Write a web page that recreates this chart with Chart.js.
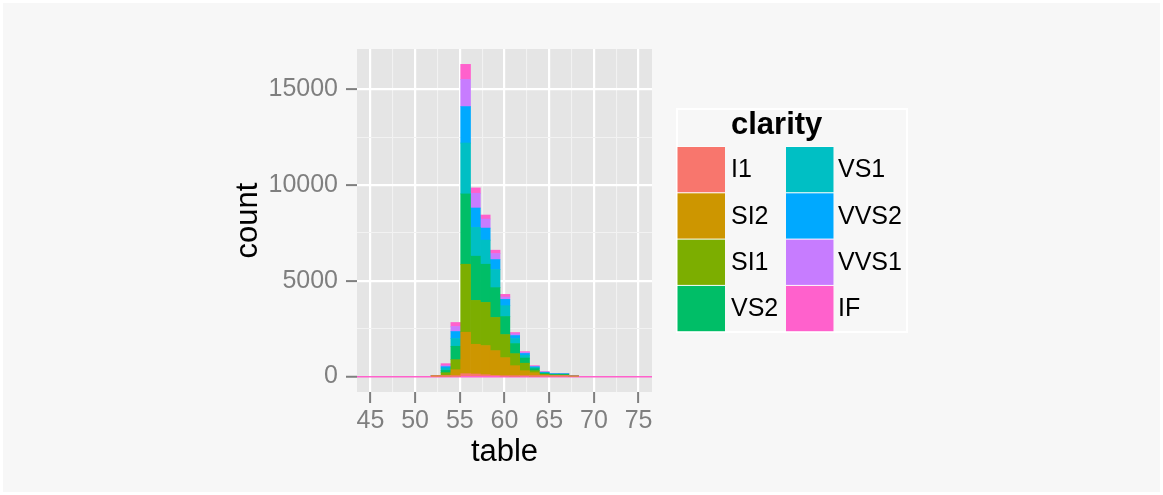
<!DOCTYPE html>
<html>
<head>
<meta charset="utf-8">
<script src="https://cdn.jsdelivr.net/npm/chart.js@4/dist/chart.umd.min.js"></script>
<style>
  html, body { margin: 0; padding: 0; background: #ffffff; }
  #c { display: block; }
</style>
</head>
<body>
<canvas id="c" width="1163" height="495"></canvas>
<script>
// bin centres of the histogram (table), binwidth 1.1
const binCenters = [43.55, 44.65, 45.75, 46.85, 47.95, 49.05, 50.15, 51.25, 52.35, 53.45,
                    54.55, 55.65, 56.75, 57.85, 58.95, 60.05, 61.15, 62.25, 63.35, 64.45,
                    65.55, 66.65, 67.75, 68.85, 69.95, 71.05, 72.15, 73.25, 74.35, 75.45];

const clarity = ['I1', 'SI2', 'SI1', 'VS2', 'VS1', 'VVS2', 'VVS1', 'IF'];
const clarityColors = ['#F8766D', '#CD9600', '#7CAE00', '#00BE67', '#00BFC4', '#00A9FF', '#C77CFF', '#FF61CC'];

// counts per bin
const countI1   = [0,0,0,0,0,0,0,0, 3, 10, 21, 142, 126, 89, 53, 30, 22, 30, 15, 25, 20, 20, 5, 0,0,0,0,0,0,0];
const countSI2  = [0,0,0,0,0,0,0,0, 25, 43, 331, 2168, 1554, 1523, 1296, 952, 540, 270, 180, 50, 30, 25, 5, 0,0,0,0,0,0,0];
const countSI1  = [0,0,0,0,0,0,0,0, 15, 141, 525, 3554, 2294, 2257, 1733, 1207, 630, 390, 105, 40, 20, 20, 5, 0,0,0,0,0,0,0];
const countVS2  = [0,0,0,0,0,0,0,0, 5, 121, 698, 3676, 2310, 1995, 1559, 945, 525, 270, 105, 50, 35, 45, 20, 0,0,0,0,0,0,0];
const countVS1  = [0,0,0,0,0,0,0,0, 3, 125, 404, 2660, 1506, 1260, 945, 562, 262, 140, 70, 30, 20, 15, 8, 0,0,0,0,0,0,0];
const countVVS2 = [0,0,0,0,0,0,0,0, 2, 69, 368, 1907, 1014, 630, 524, 331, 158, 100, 30, 25, 15, 12, 2, 0,0,0,0,0,0,0];
const countVVS1 = [0,0,0,0,0,0,0,0, 1, 53, 262, 1417, 770, 473, 315, 121, 89, 50, 27, 12, 5, 3, 0, 0,0,0,0,0,0,0];
const countIF   = [0,0,0,0,0,0,0,0, 1, 105, 210, 788, 280, 210, 174, 141, 68, 47, 30, 15, 5, 3, 2, 0,0,0,0,0,0,0];

const counts = [countI1, countSI2, countSI1, countVS2, countVS1, countVVS2, countVVS1, countIF];

const xMajorTicks = [45, 50, 55, 60, 65, 70, 75];
const xMinorTicks = [47.5, 52.5, 57.5, 62.5, 67.5, 72.5];
const yMajorTicks = [0, 5000, 10000, 15000];
const yMinorTicks = [2500, 7500, 12500];

Chart.defaults.font.family = '"Liberation Sans", Arial, sans-serif';

function tickValue(ctx) {
  return ctx && ctx.tick ? ctx.tick.value : null;
}
function gridColor(minor, zeroColor) {
  return ctx => {
    const v = tickValue(ctx);
    if (zeroColor && v === 0) return zeroColor;
    return minor.includes(v) ? '#F2F2F2' : '#FFFFFF';
  };
}
function gridWidth(minor, zero) {
  return ctx => {
    const v = tickValue(ctx);
    if (zero && v === 0) return 1.5;
    return minor.includes(v) ? 1.1 : 2.2;
  };
}
function tickCol(minor) {
  return ctx => minor.includes(tickValue(ctx)) ? 'rgba(0,0,0,0)' : '#7F7F7F';
}

const background = {
  id: 'background',
  beforeDraw(chart) {
    const ctx = chart.ctx, a = chart.chartArea;
    ctx.save();
    ctx.fillStyle = '#ffffff';
    ctx.fillRect(0, 0, chart.width, chart.height);
    ctx.fillStyle = '#F7F7F7';
    ctx.fillRect(3, 3, chart.width - 6, chart.height - 6);
    ctx.fillStyle = '#E5E5E5';
    ctx.fillRect(a.left, a.top, a.right - a.left, a.bottom - a.top);
    ctx.restore();
  }
};

// ggplot style legend box in two columns
const legendBox = {
  id: 'legendBox',
  afterDraw(chart) {
    const ctx = chart.ctx;
    ctx.save();
    ctx.strokeStyle = '#ffffff';
    ctx.lineWidth = 2;
    ctx.strokeRect(677, 109, 230, 223);
    ctx.fillStyle = '#000000';
    ctx.textBaseline = 'middle';
    ctx.textAlign = 'left';
    ctx.font = 'bold 31px "Liberation Sans", Arial, sans-serif';
    ctx.fillText('clarity', 731, 125);
    ctx.font = '25px "Liberation Sans", Arial, sans-serif';
    const colX = [677.5, 786];
    const textX = [731, 838];
    for (let i = 0; i < clarity.length; i++) {
      const col = Math.floor(i / 4), row = i % 4;
      const y = 146.5 + row * 46.3;
      ctx.fillStyle = '#ffffff';
      ctx.fillRect(colX[col], y, 47.5, 46.3);
      ctx.fillStyle = clarityColors[i];
      ctx.fillRect(colX[col], y + 0.5, 47.5, 45.3);
      ctx.fillStyle = '#000000';
      ctx.fillText(clarity[i], textX[col], y + 24);
    }
    ctx.restore();
  }
};

new Chart(document.getElementById('c'), {
  type: 'bar',
  data: {
    datasets: clarity.map((name, i) => ({
      label: name,
      // empty bins draw nothing, so the zero line shows through
      data: counts[i].map((v, k) => ({ x: binCenters[k], y: v === 0 ? null : v })),
      backgroundColor: clarityColors[i],
      borderWidth: 0,
      barPercentage: 1,
      categoryPercentage: 1
    }))
  },
  options: {
    responsive: false,
    animation: false,
    devicePixelRatio: 1,
    layout: { padding: { left: 230, top: 49, right: 511, bottom: 20 } },
    plugins: { legend: { display: false }, tooltip: { enabled: false } },
    scales: {
      x: {
        type: 'linear',
        min: 43.5,
        max: 76.5,
        stacked: true,
        offset: false,
        afterBuildTicks: s => { s.ticks = xMajorTicks.concat(xMinorTicks).sort((a, b) => a - b).map(v => ({ value: v })); },
        afterFit: s => { s.height = 83; },
        ticks: {
          autoSkip: false,
          maxRotation: 0,
          padding: 3,
          color: '#7F7F7F',
          font: { size: 25 },
          callback: v => xMajorTicks.includes(v) ? String(v) : ''
        },
        grid: {
          offset: false,
          color: gridColor(xMinorTicks),
          lineWidth: gridWidth(xMinorTicks),
          tickLength: 11,
          tickWidth: 2,
          tickColor: tickCol(xMinorTicks)
        },
        border: { display: false },
        title: { display: true, text: 'table', color: '#000000', font: { size: 31 }, padding: { top: 0, bottom: 4 } }
      },
      y: {
        min: -815,
        max: 17115,
        stacked: true,
        afterBuildTicks: s => { s.ticks = yMajorTicks.concat(yMinorTicks).sort((a, b) => a - b).map(v => ({ value: v })); },
        afterFit: s => { s.width = 127; },
        ticks: {
          autoSkip: false,
          padding: 8,
          color: '#7F7F7F',
          font: { size: 25 },
          callback: v => yMajorTicks.includes(v) ? String(v) : ''
        },
        grid: {
          offset: false,
          color: gridColor(yMinorTicks, '#FF61CC'),
          lineWidth: gridWidth(yMinorTicks, true),
          tickLength: 11,
          tickWidth: 2,
          tickColor: tickCol(yMinorTicks)
        },
        border: { display: false },
        title: { display: true, text: 'count', color: '#000000', font: { size: 31 }, padding: 0 }
      }
    }
  },
  plugins: [background, legendBox]
});
</script>
</body>
</html>
